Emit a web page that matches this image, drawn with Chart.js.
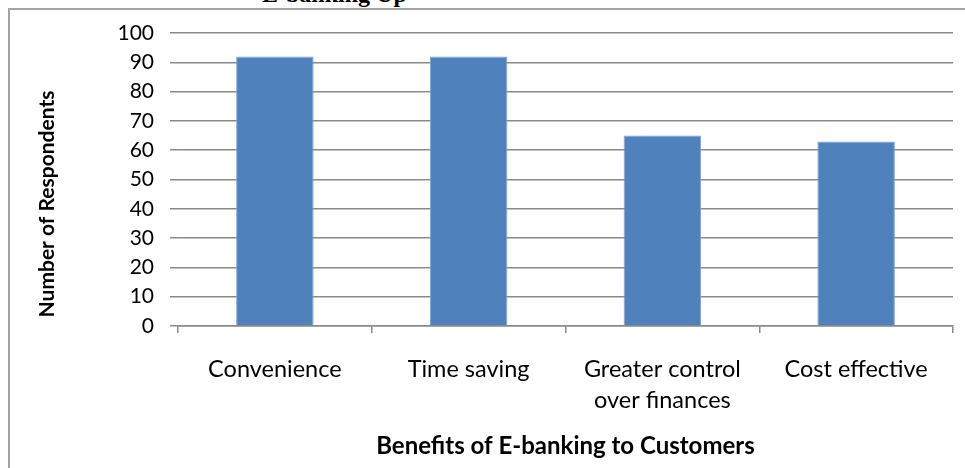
<!DOCTYPE html>
<html>
<head>
<meta charset="utf-8">
<script src="https://cdn.jsdelivr.net/npm/chart.js@4/dist/chart.umd.min.js"></script>
<style>
    html, body {
        margin: 0;
        padding: 0;
        background: #ffffff;
        overflow: hidden;
    }

    #pagina {
        position: relative;
        width: 965px;
        height: 468px;
        overflow: hidden;
    }

    /* caption of the figure, mostly cut by the top edge */
    #legenda {
        position: absolute;
        left: 262px;
        top: -19px;
        font-family: "Liberation Serif", serif;
        font-weight: bold;
        font-size: 24px;
        white-space: nowrap;
        color: #000000;
    }

    #moldura {
        position: absolute;
        left: 8px;
        top: 8px;
        width: 1000px;
        height: 500px;
        border: 2px solid #a3a3a3;
    }

    #grafico {
        position: absolute;
        left: 0;
        top: 0;
    }
</style>
</head>
<body>
<div id="pagina">
    <div id="legenda">E-banking Up</div>
    <div id="moldura"></div>
    <canvas id="grafico" width="965" height="468"></canvas>
</div>

<script>
// =======================
// DADOS
// =======================

const categorias = [
    "Convenience",
    "Time saving",
    ["Greater control", "over finances"],
    "Cost effective"
];

const respondentes = [92, 92, 65, 63];

const ticksY = [0, 10, 20, 30, 40, 50, 60, 70, 80, 90, 100];

const tituloY = "Number of Respondents";

// =======================
// GRÁFICO
// =======================

const FONTE = "Lato, 'Open Sans', sans-serif";

// título do eixo Y desenhado à mão (fica mais abaixo que o centro)
const tituloEixoY = {
    id: "tituloEixoY",
    afterDraw(chart) {
        const c = chart.ctx;
        c.save();
        c.translate(47, 204);
        c.rotate(-Math.PI / 2);
        c.font = "bold 21px " + FONTE;
        c.fillStyle = "#000000";
        c.textAlign = "center";
        c.textBaseline = "middle";
        c.fillText(tituloY, 0, 0);
        c.restore();
    }
};

const ctx =
    document.getElementById("grafico");

const grafico = new Chart(ctx, {
    type: "bar",

    data: {
        labels: categorias,
        datasets: [{
            label: tituloY,
            data: respondentes,
            backgroundColor: "#4f81bd",
            borderColor: "#7ea3d2",
            borderWidth: 1,
            categoryPercentage: 1,
            barPercentage: 0.4
        }]
    },

    plugins: [tituloEixoY],

    options: {
        responsive: false,
        animation: false,
        layout: {
            padding: {
                left: 0,
                right: 12,
                top: 33,
                bottom: 0
            }
        },
        plugins: {
            legend: { display: false },
            tooltip: { enabled: false }
        },
        scales: {
            x: {
                offset: true,
                afterFit: (escala) => {
                    // altura fixa da faixa de rótulos + título
                    escala.height = 142;
                },
                border: {
                    display: true,
                    color: "#8a8a8a",
                    width: 1.5
                },
                grid: {
                    offset: true,
                    drawOnChartArea: false,
                    drawTicks: true,
                    tickLength: 7,
                    color: "#8a8a8a",
                    lineWidth: 1.5
                },
                ticks: {
                    color: "#000000",
                    padding: 21,
                    maxRotation: 0,
                    autoSkip: false,
                    font: {
                        family: FONTE,
                        size: 23.5,
                        lineHeight: 1.32
                    }
                },
                title: {
                    display: true,
                    text: "Benefits of E-banking to Customers",
                    color: "#000000",
                    padding: { top: 0, bottom: 7 },
                    font: {
                        family: FONTE,
                        size: 24,
                        weight: "bold",
                        lineHeight: 1.2
                    }
                }
            },
            y: {
                min: 0,
                max: 100,
                afterFit: (escala) => {
                    // largura fixa do eixo vertical
                    escala.width = 178;
                },
                afterBuildTicks: (escala) => {
                    escala.ticks = ticksY.map(v => ({ value: v }));
                },
                border: { display: false },
                grid: {
                    drawTicks: true,
                    tickLength: 8,
                    color: "#8a8a8a",
                    lineWidth: 1.5
                },
                ticks: {
                    color: "#000000",
                    padding: 16,
                    autoSkip: false,
                    stepSize: 10,
                    font: {
                        family: FONTE,
                        size: 21
                    }
                },
                title: { display: false }
            }
        }
    }
});
</script>
</body>
</html>
